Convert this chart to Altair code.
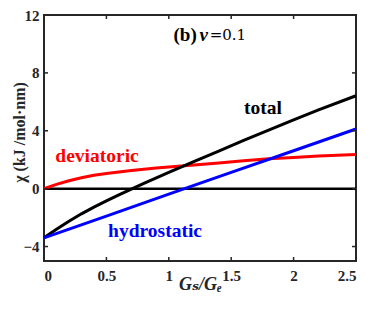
import altair as alt
import pandas as pd

# ---- data ----
x_grid = [0, 0.1, 0.2, 0.3, 0.4, 0.5, 0.6, 0.7, 0.8, 0.9, 1.0, 1.2, 1.4, 1.6, 1.8, 2.0, 2.2, 2.5]
deviatoric = [0, 0.3, 0.55, 0.75, 0.92, 1.05, 1.15, 1.25, 1.34, 1.42, 1.5, 1.64, 1.78, 1.93, 2.06, 2.16, 2.25, 2.36]
total = [-3.4, -2.81, -2.25, -1.74, -1.28, -0.85, -0.43, -0.03, 0.37, 0.75, 1.12, 1.87, 2.6, 3.33, 4.05, 4.76, 5.45, 6.42]
x_hyd = [0, 0.5, 1.0, 1.5, 2.0, 2.5]
hydrostatic = [-3.4, -1.9, -0.38, 1.12, 2.62, 4.12]
x_zero = [0, 2.5]
y_zero = [0, 0]

x_ticks = [0, 0.5, 1, 1.5, 2, 2.5]
y_ticks = [-4, 0, 4, 8, 12]

labels = ["total", "deviatoric", "hydrostatic"]
label_x = [1.755, 0.425, 0.89]
label_y = [5.55, 2.27, -2.93]
label_colors = ["#000000", "#ff0000", "#0000ff"]

panel_x = [1.28]
panel_y = [10.65]

W, H = 312, 246
FONT = "Liberation Serif, Times New Roman, DejaVu Serif, serif"
FRAME = "#262626"

xs = alt.Scale(domain=[0, 2.5], nice=False, zero=False)
ys = alt.Scale(domain=[-5, 12], nice=False, zero=False)

rows = []
for xv, yv in zip(x_grid, deviatoric):
    rows.append({"x": xv, "y": yv, "s": "deviatoric"})
for xv, yv in zip(x_grid, total):
    rows.append({"x": xv, "y": yv, "s": "total"})
for xv, yv in zip(x_hyd, hydrostatic):
    rows.append({"x": xv, "y": yv, "s": "hydrostatic"})
df = pd.DataFrame(rows)

zero_df = pd.DataFrame({"x": x_zero, "y": y_zero})

x_enc = alt.X("x:Q", scale=xs, axis=alt.Axis(
    values=x_ticks, format="~g", title="Gₛ/Gₑ", grid=False, domain=False, ticks=False,
    labelFont=FONT, labelFontWeight="bold", labelFontSize=15, labelColor=FRAME,
    labelPadding=7, titleFont=FONT, titleFontStyle="italic", titleFontWeight="bold",
    titleFontSize=18, titleColor=FRAME, titleBaseline="middle", titleY=23))
y_enc = alt.Y("y:Q", scale=ys, axis=alt.Axis(
    values=y_ticks, format="~g", title="χ (kJ /mol·nm)", grid=False, domain=False, ticks=False,
    labelFont=FONT, labelFontWeight="bold", labelFontSize=15, labelColor=FRAME,
    labelPadding=5, titleFont=FONT, titleFontWeight="bold", titleFontSize=16,
    titleColor=FRAME, titleBaseline="middle", titleX=-25, titleY=117))

zero_line = alt.Chart(zero_df).mark_line(color="black", strokeWidth=2.5).encode(x=x_enc, y=y_enc)

curves = alt.Chart(df).mark_line(strokeWidth=3).encode(
    x=alt.X("x:Q", scale=xs),
    y=alt.Y("y:Q", scale=ys),
    color=alt.Color("s:N", scale=alt.Scale(domain=["deviatoric", "total", "hydrostatic"],
                                           range=["#ff0000", "#000000", "#0000ff"]), legend=None),
    detail="s:N",
    order="x:Q",
)

lab_df = pd.DataFrame({"t": labels, "x": label_x, "y": label_y, "c": label_colors})
texts = alt.Chart(lab_df).mark_text(font=FONT, fontWeight="bold", fontSize=19.5, baseline="middle").encode(
    x=alt.X("x:Q", scale=xs), y=alt.Y("y:Q", scale=ys), text="t:N",
    color=alt.Color("c:N", scale=None))

pan_df = pd.DataFrame({"x": panel_x, "y": panel_y})
p_b = alt.Chart(pan_df).mark_text(font=FONT, fontWeight="bold", fontSize=19, align="right",
                                  baseline="middle", dx=-7, text="(b)", color="black").encode(
    x=alt.X("x:Q", scale=xs), y=alt.Y("y:Q", scale=ys))
p_v = alt.Chart(pan_df).mark_text(font=FONT, fontWeight="bold", fontStyle="italic", fontSize=19,
                                  align="center", baseline="middle", text="v", color="black").encode(
    x=alt.X("x:Q", scale=xs), y=alt.Y("y:Q", scale=ys))
p_eq = alt.Chart(pan_df).mark_text(font="DejaVu Serif", fontSize=15, align="left",
                                   baseline="middle", dx=6, text="=0.1", color="black").encode(
    x=alt.X("x:Q", scale=xs), y=alt.Y("y:Q", scale=ys))

xt_df = pd.DataFrame({"v": x_ticks})
yt_df = pd.DataFrame({"v": y_ticks})
tick_style = dict(color=FRAME, strokeWidth=1.5)
t_bottom = alt.Chart(xt_df).mark_rule(**tick_style).encode(
    x=alt.X("v:Q", scale=xs), y=alt.value(H), y2=alt.value(H - 4))
t_top = alt.Chart(xt_df).mark_rule(**tick_style).encode(
    x=alt.X("v:Q", scale=xs), y=alt.value(0), y2=alt.value(4))
t_left = alt.Chart(yt_df).mark_rule(**tick_style).encode(
    y=alt.Y("v:Q", scale=ys), x=alt.value(0), x2=alt.value(4))
t_right = alt.Chart(yt_df).mark_rule(**tick_style).encode(
    y=alt.Y("v:Q", scale=ys), x=alt.value(W), x2=alt.value(W - 4))

chart = alt.layer(
    zero_line, curves, t_bottom, t_top, t_left, t_right, texts, p_b, p_v, p_eq
).properties(
    width=W, height=H,
    autosize=alt.AutoSizeParams(type="none"),
    padding={"left": 36, "top": 7, "right": 10, "bottom": 35},
    background="white",
).configure_view(stroke=FRAME, strokeWidth=2)

chart.save("out.html", embed_options={"renderer": "svg", "actions": False})
